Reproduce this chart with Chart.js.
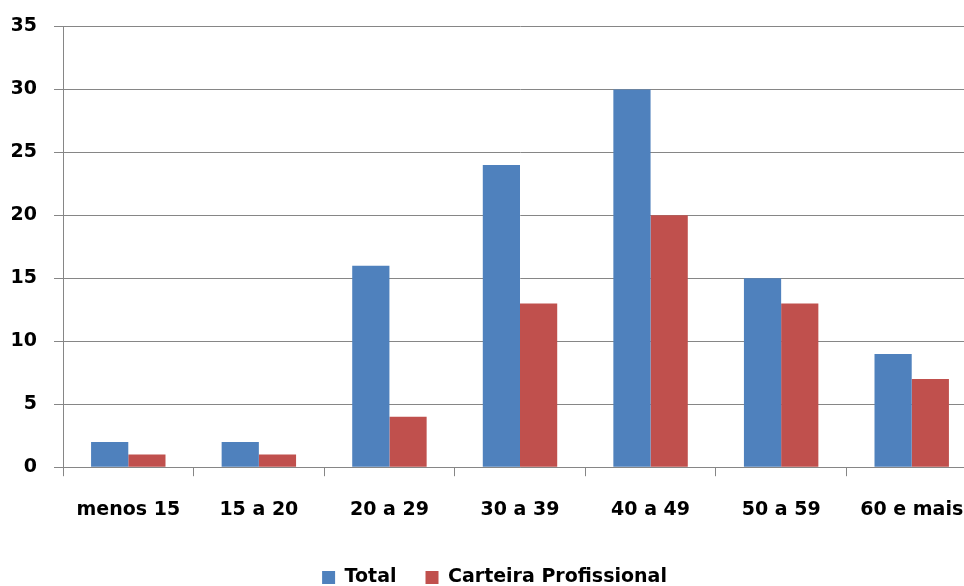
<!DOCTYPE html>
<html>
<head>
<meta charset="utf-8">
<script src="https://cdn.jsdelivr.net/npm/chart.js@4/dist/chart.umd.min.js"></script>
<style>
  html, body { margin: 0; padding: 0; background: #fff; overflow: hidden; }
  .chart-container { position: relative; width: 990px; height: 597px; }
</style>
</head>
<body>
<div class="chart-container">
  <canvas id="chart" width="990" height="597"></canvas>
</div>
<script>
// faixas etarias e series
const categorias = ['menos 15', '15 a 20', '20 a 29', '30 a 39', '40 a 49', '50 a 59', '60 e mais'];
const total = [2, 2, 16, 24, 30, 15, 9];
const carteira = [1, 1, 4, 13, 20, 13, 7];

const fonte = { family: '"DejaVu Sans", sans-serif', weight: 'bold', size: 19 };

const ctx = document.getElementById('chart').getContext('2d');

new Chart(ctx, {
  type: 'bar',
  data: {
    labels: categorias,
    datasets: [
      { label: 'Total', data: total, backgroundColor: '#4F81BD' },
      { label: 'Carteira Profissional', data: carteira, backgroundColor: '#C0504D' },
    ],
  },
  options: {
    responsive: false,
    animation: false,
    layout: { padding: { left: 12, right: 13, top: 12, bottom: 0 } },
    datasets: { bar: { categoryPercentage: 0.57, barPercentage: 1.0 } },
    scales: {
      x: {
        grid: { display: true, drawOnChartArea: false, color: '#868686', tickLength: 9, offset: true },
        border: { color: '#868686' },
        ticks: { color: '#000', font: fonte, padding: 22, maxRotation: 0 },
        afterFit: (s) => { s.height -= 4; },
      },
      y: {
        min: 0,
        max: 35,
        ticks: { stepSize: 5, color: '#000', font: { ...fonte, lineHeight: 1.0 }, padding: 17 },
        grid: { color: '#868686', tickLength: 9 },
        border: { color: '#868686' },
        afterFit: (s) => { s.width = 51; },
      },
    },
    plugins: {
      legend: {
        position: 'bottom',
        labels: { color: '#000', font: fonte, boxWidth: 13, boxHeight: 13, padding: 29 },
      },
      tooltip: { enabled: false },
    },
  },
});
</script>
</body>
</html>
